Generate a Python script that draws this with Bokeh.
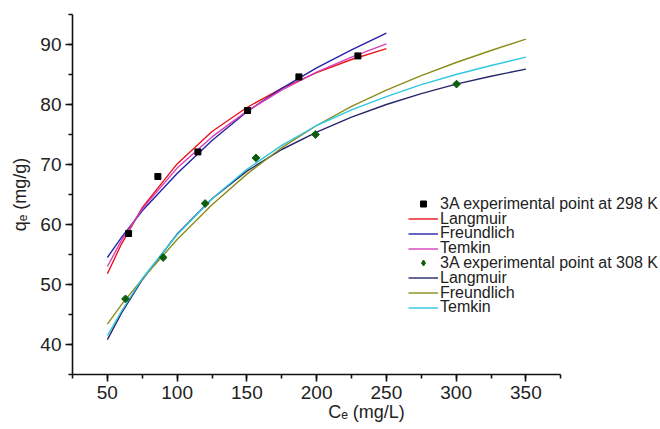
import math
from bokeh.plotting import figure
from bokeh.models import Legend, LegendItem, SingleIntervalTicker, Range1d
from bokeh.embed import file_html
from bokeh.resources import INLINE

# experimental points
ce_298 = [65.2, 86.2, 114.9, 150.5, 187.3, 229.6]
qe_298 = [58.5, 68.0, 72.1, 79.0, 84.6, 88.1]
ce_308 = [63.0, 90.0, 120.1, 156.5, 199.2, 300.3]
qe_308 = [47.6, 54.5, 63.5, 71.1, 75.0, 83.4]

# fitted curves, 298 K
c_fit_298 = [50, 60, 75, 100, 125, 150, 175, 200, 225, 250]
langmuir_298 = [51.8, 56.7, 62.8, 70.1, 75.5, 79.5, 82.7, 85.3, 87.5, 89.3]
freundlich_298 = [54.5, 57.8, 62.3, 68.5, 74.0, 78.8, 82.7, 86.1, 89.1, 91.9]
temkin_298 = [53.0, 57.3, 62.6, 69.4, 74.6, 78.9, 82.4, 85.4, 87.9, 90.1]

# fitted curves, 308 K
c_fit_308 = [50, 60, 75, 100, 125, 150, 175, 200, 225, 250, 275, 300, 325, 350]
langmuir_308 = [40.8, 45.2, 50.8, 58.4, 64.3, 68.9, 72.5, 75.4, 77.9, 80.0, 81.8, 83.4, 84.7, 85.9]
freundlich_308 = [43.4, 46.6, 50.9, 57.5, 63.3, 68.4, 72.8, 76.5, 79.7, 82.4, 84.8, 87.0, 89.0, 90.9]
temkin_308 = [41.5, 45.5, 51.0, 58.3, 64.3, 69.2, 73.2, 76.5, 79.1, 81.3, 83.3, 85.0, 86.5, 87.9]

legend_labels = ["3A experimental point at 298 K", "Langmuir", "Freundlich", "Temkin",
                 "3A experimental point at 308 K", "Langmuir", "Freundlich", "Temkin"]

FONT = "Liberation Sans"

# frame spans to the right edge so the legend is not clipped; axis drawn only over 25-375
p = figure(width=660, height=429, x_range=Range1d(25, 446.5), y_range=Range1d(35, 95),
           output_backend="svg", toolbar_location=None,
           min_border_left=72, min_border_right=0, min_border_top=14, min_border_bottom=55)
p.outline_line_color = None
p.xgrid.visible = False
p.ygrid.visible = False
p.background_fill_color = "white"

p.xaxis.ticker = SingleIntervalTicker(interval=50, num_minor_ticks=2)
p.yaxis.ticker = SingleIntervalTicker(interval=10, num_minor_ticks=2)
p.xaxis.bounds = (25, 375)
for ax in (p.xaxis, p.yaxis):
    ax.axis_line_width = 1.6
    ax.axis_line_color = "#111111"
    ax.major_tick_line_width = 1.6
    ax.minor_tick_line_width = 1.6
    ax.major_tick_line_color = "#111111"
    ax.minor_tick_line_color = "#111111"
    ax.major_tick_out = 7
    ax.major_tick_in = 0
    ax.minor_tick_out = 4
    ax.minor_tick_in = 0
    ax.major_label_text_font = FONT
    ax.major_label_text_font_size = "19px"
    ax.major_label_text_color = "#222222"
    ax.major_label_standoff = 4
    ax.axis_label_text_font = FONT
    ax.axis_label_text_font_size = "18px"
    ax.axis_label_text_font_style = "normal"
    ax.axis_label_text_color = "#222222"

p.yaxis.axis_label = "q\u2091 (mg/g)"
p.yaxis.axis_label_standoff = 7
p.xaxis.axis_label = "C\u2091 (mg/L)"
p.xaxis.axis_label_standoff = 0

lw = 1.4
r_l298 = p.line(c_fit_298, langmuir_298, line_color="#e8141c", line_width=lw)
r_f298 = p.line(c_fit_298, freundlich_298, line_color="#2323a8", line_width=lw)
r_t298 = p.line(c_fit_298, temkin_298, line_color="#d63fb8", line_width=lw)
r_l308 = p.line(c_fit_308, langmuir_308, line_color="#27276b", line_width=lw)
r_f308 = p.line(c_fit_308, freundlich_308, line_color="#8c8c1a", line_width=lw)
r_t308 = p.line(c_fit_308, temkin_308, line_color="#2ec8e0", line_width=lw)

GREEN = "#0b5e0b"
r_p298 = p.scatter(ce_298, qe_298, marker="square", size=6, fill_color="black", line_color="black")
r_p308 = p.scatter(ce_308, qe_308, marker="square", size=5.5, angle=math.pi / 4,
                   fill_color=GREEN, line_color=GREEN)
# same points as a zero-size diamond: only its legend swatch is seen
r_p308_key = p.scatter(ce_308, qe_308, marker="diamond", size=0,
                       fill_color=GREEN, line_color=GREEN)

renderers = [r_p298, r_l298, r_f298, r_t298, r_p308_key, r_l308, r_f308, r_t308]

# one legend per row so rows can sit closer than Bokeh's text-height row pitch
row_pitch = 14.8
first_row_center = 204.0   # page px
frame_bottom = 374.5       # page px
for i, (lab, r) in enumerate(zip(legend_labels, renderers)):
    center = first_row_center + row_pitch * i
    lg = Legend(items=[LegendItem(label=lab, renderers=[r])],
                location=(336, frame_bottom - center - 9.2))
    lg.padding = 0
    lg.margin = 0
    lg.border_line_alpha = 0
    lg.background_fill_alpha = 0
    lg.glyph_width = 30
    lg.glyph_height = 15
    lg.label_height = 15
    lg.label_standoff = 2
    lg.spacing = 0
    lg.label_text_font = FONT
    lg.label_text_font_size = "16px"
    lg.label_text_color = "#222222"
    p.add_layout(lg)

open("out.html", "w").write(file_html(p, INLINE))
